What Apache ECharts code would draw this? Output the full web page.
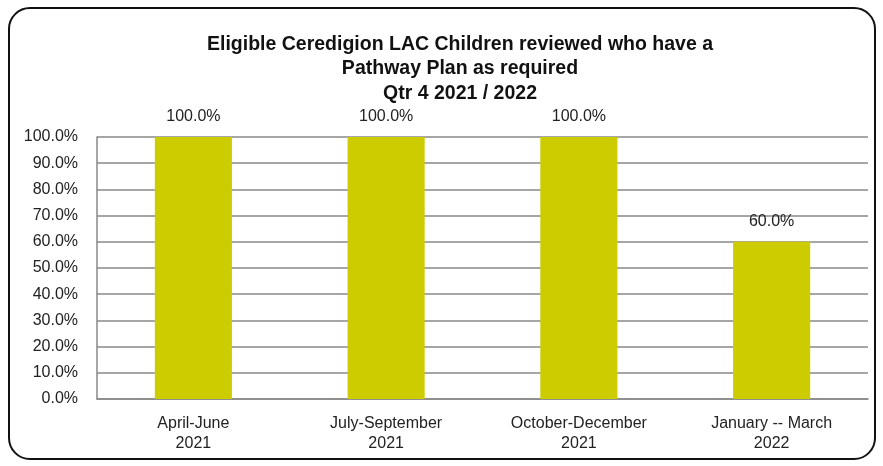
<!DOCTYPE html>
<html><head><meta charset="utf-8">
<script src="https://cdn.jsdelivr.net/npm/echarts@6/dist/echarts.min.js"></script>
<style>
html,body{margin:0;padding:0;background:#fff;}
#frame{position:absolute;left:8px;top:7px;width:868px;height:453px;border:2px solid #111;border-radius:22px;box-sizing:border-box;}
#c{position:absolute;left:0;top:0;width:883px;height:466px;}
</style></head>
<body>
<div id="frame"></div>
<div id="c"></div>
<script>
const titleText = "Eligible Ceredigion LAC Children reviewed who have a\nPathway Plan as required\nQtr 4 2021 / 2022";
const categories = ["April-June\n2021", "July-September\n2021", "October-December\n2021", "January -- March\n2022"];
const values = [100.0, 100.0, 100.0, 60.0];
const yTicks = [0, 10, 20, 30, 40, 50, 60, 70, 80, 90, 100];

const chart = echarts.init(document.getElementById('c'));
chart.setOption({
  animation: false,
  title: {
    text: titleText,
    left: 455, top: 27, textAlign: 'center',
    textStyle: {fontFamily: 'Liberation Sans', fontWeight: 'bold', fontSize: 19.5, color: '#111', lineHeight: 24.5}
  },
  grid: {left: 97, right: 15, top: 137, bottom: 67, containLabel: false},
  xAxis: {
    type: 'category', data: categories,
    axisLine: {lineStyle: {color: '#888', width: 1.5}},
    axisTick: {show: false},
    axisLabel: {fontFamily: 'Liberation Sans', fontSize: 16, color: '#222', margin: 15, lineHeight: 20}
  },
  yAxis: {
    type: 'value', min: 0, max: 100, interval: 10,
    axisLine: {show: true, lineStyle: {color: '#888', width: 1.5}},
    axisTick: {show: false},
    splitLine: {lineStyle: {color: '#888', width: 1.5}},
    axisLabel: {fontFamily: 'Liberation Sans', fontSize: 16, color: '#222', margin: 19,
      formatter: v => yTicks.includes(v) ? v.toFixed(1) + '%' : ''}
  },
  series: [{
    type: 'bar', data: values, barWidth: '40%',
    itemStyle: {color: '#CCCC00'},
    label: {show: true, position: 'top', distance: 12, fontFamily: 'Liberation Sans', fontSize: 16, color: '#222',
      formatter: p => p.value.toFixed(1) + '%'}
  }]
});
</script>
</body></html>
